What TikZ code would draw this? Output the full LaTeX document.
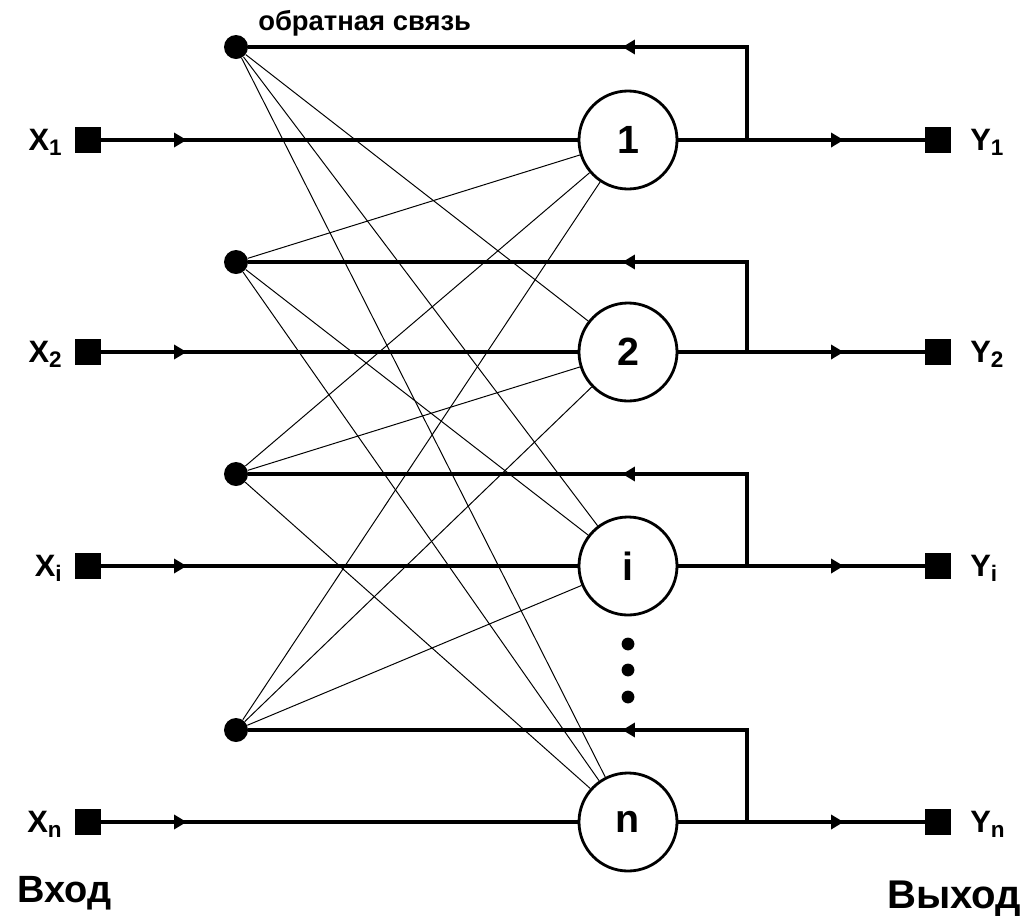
\documentclass[tikz,border=0pt]{standalone}
\usepackage{fontspec}
\setmainfont{Liberation Sans}
\usetikzlibrary{arrows.meta,decorations.markings}
\newcommand{\lblsub}[1]{\raisebox{-4pt}{\fontsize{16}{16}\selectfont#1}}

\begin{document}
\begin{tikzpicture}[x=0.025cm,y=-0.025cm,
    neuron/.style={circle,draw,line width=2pt,minimum size=2.45cm,inner sep=0pt,font=\bfseries\fontsize{28}{28}\selectfont},
    port/.style={fill,minimum size=0.63cm,inner sep=0pt},
    fbdot/.style={circle,fill,minimum size=0.6cm,inner sep=0pt},
    wire/.style={line width=2.6pt},
    weight/.style={line width=0.7pt},
    lbl/.style={inner sep=0pt,font=\bfseries\fontsize{22}{22}\selectfont},
    midarrow/.style={postaction={decorate},decoration={markings,mark=at position #1 with {\arrow{Triangle[length=9pt,width=10pt]}}}}]
                \useasboundingbox(0,0)rectangle(1026,915);
                \foreach \k/\y/\fy in {1/140/47,2/352/262,i/566/474,n/822/730}{
                    \node[port](x\k)at(88,\y){};
                    \node[neuron](h\k)at(628,\y){\k};
                    \node[port](y\k)at(938,\y){};
                    \node[fbdot](f\k)at(236,\fy){};
                    \coordinate(b\k)at(747,\y);
                    \coordinate(c\k)at(747,\fy);
                    \node[lbl,anchor=base east]at(62,\y+10){X\lblsub{\k}};
                    \node[lbl,anchor=base west]at(970,\y+10){Y\lblsub{\k}};
                    \draw[wire,midarrow=0.18](x\k)--(h\k);
                    \draw[wire,midarrow=0.67](h\k)--(y\k);
                    \draw[wire,line join=miter](b\k)--(c\k)--(f\k);
                    \draw[wire,midarrow=0.25](c\k)--(f\k);
                }
                \foreach \a in {1,2,i,n}
                    \foreach \b in {1,2,i,n}
                        {\ifx\a\b\else\draw[weight](f\a)--(h\b);\fi}
                \foreach \d in {644,670,697}
                    \fill(628,\d)circle(0.16cm);
                \node[lbl,anchor=base west,font=\bfseries\fontsize{19.5}{19.5}\selectfont]at(258,30){обратная связь};
                \node[lbl,anchor=base west,font=\bfseries\fontsize{27}{27}\selectfont]at(17,902){Вход};
                \node[lbl,anchor=base west,font=\bfseries\fontsize{28.5}{28.5}\selectfont]at(887,908){Выход};
            \end{tikzpicture}
\end{document}
